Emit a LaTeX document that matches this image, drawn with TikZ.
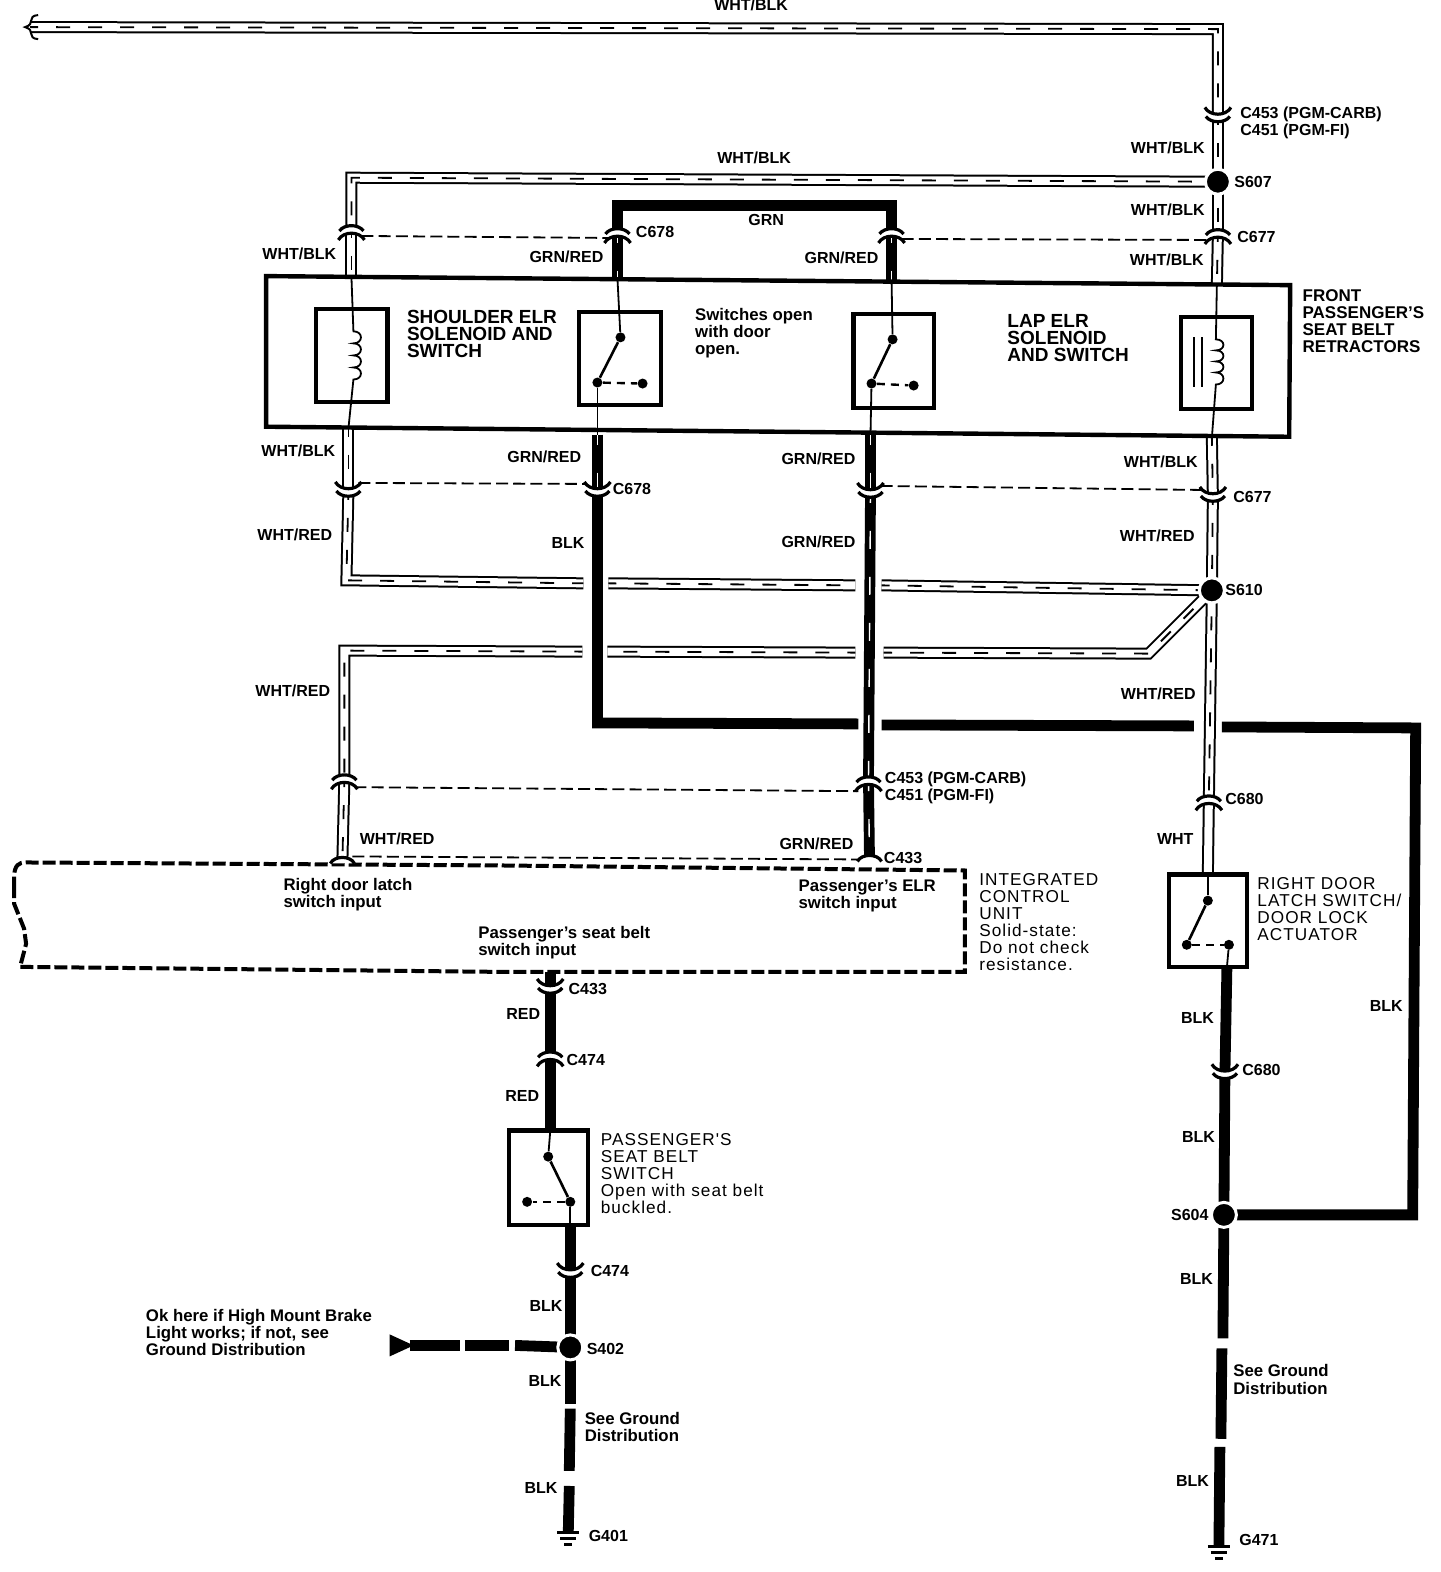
\documentclass[tikz,border=0pt]{standalone}
\usepackage{fontspec}
\usetikzlibrary{calc}
\setmainfont{Liberation Sans}
\newfontfamily\spaced[LetterSpace=6]{Liberation Sans}
\tikzset{
  wireo/.style={draw=black,line width=1pt,double=white,double distance=4pt},
  stripe/.style={draw=black,line width=0.9pt,dash pattern=on 7pt off 9pt,dash phase=3pt},
  thickw/.style={draw=black,line width=5.4pt},
  slit/.style={draw=white,line width=0.7pt,dash pattern=on 9pt off 14pt,dash phase=4pt},
  thinw/.style={draw=black,line width=0.9pt},
  link/.style={draw=black,line width=0.9pt,dash pattern=on 6pt off 2.6pt},
  boxp/.style={draw=black,line width=2.1pt,fill=white},
  splice/.style={circle,fill=black,draw=white,line width=1.5pt,inner sep=0pt,minimum size=12.5pt},
  swdot/.style={circle,fill=black,inner sep=0pt,minimum size=5pt},
  lab/.style={font=\bfseries\fontsize{8}{8.5}\selectfont,inner sep=0pt,anchor=west,align=left},
  big/.style={font=\bfseries\fontsize{9.5}{8.5}\selectfont,inner sep=0pt,anchor=west,align=left},
  front/.style={font=\bfseries\fontsize{8.5}{8.5}\selectfont,inner sep=0pt,anchor=west,align=left},
  capt/.style={font=\spaced\fontsize{8.6}{8.5}\selectfont,inner sep=0pt,anchor=west,align=left},
  note/.style={font=\bfseries\fontsize{8.4}{8.6}\selectfont,inner sep=0pt,anchor=west,align=left},
  conU/.pic={
    \fill[white] (-9,-3) rectangle (9,3);
    \draw[black,line width=1.6pt] (-13,-10) .. controls (-8,-1) and (8,-1) .. (13,-10);
    \draw[black,line width=1.6pt] (-12,-1) .. controls (-7,6) and (7,6) .. (12,-1);
  },
  conD/.pic={
    \fill[white] (-9,-3) rectangle (9,3);
    \draw[black,line width=1.6pt] (-12,1) .. controls (-7,-6) and (7,-6) .. (12,1);
    \draw[black,line width=1.6pt] (-13,10) .. controls (-8,1) and (8,1) .. (13,10);
  },
  conS/.pic={
    \fill[white] (-12,3) .. controls (-8,-5) and (8,-5) .. (12,3) -- cycle;
    \draw[black,line width=1.6pt] (-12,3) .. controls (-8,-5) and (8,-5) .. (12,3);
  },
  gndp/.pic={
    \draw[black,line width=1.4pt] (-11,0) -- (11,0) (-8,6) -- (8,6) (-4,12) -- (4,12);
  }
}
\newcommand\wwire[1]{\draw[wireo] #1; \draw[stripe] #1;}
\newcommand\kwire[1]{\draw[thickw] #1; \draw[slit] #1;}
\begin{document}
\begin{tikzpicture}[x=0.502pt,y=-0.502pt]
\useasboundingbox (0,0) rectangle (1434.3,1565.7);
% ----- coordinates
\coordinate (topL) at (30,27);
\coordinate (topR) at (1213,29);
\coordinate (c453r) at (1213,117);
\coordinate (s607c) at (1213,181);
\coordinate (c677a) at (1213,233);
\coordinate (boxTR) at (1212,283);
\coordinate (leftTop) at (350,177);
\coordinate (c1) at (350,229);
\coordinate (boxTL) at (350,275);
\coordinate (boxBL) at (347,427);
\coordinate (c2) at (347,490);
\coordinate (c3) at (615,232);
\coordinate (c4) at (888,232);
\coordinate (grnL) at (615,205);
\coordinate (grnR) at (888,205);
\coordinate (b3) at (615,278);
\coordinate (b4) at (888,280);
\coordinate (b5) at (595,433);
\coordinate (c5) at (595,490);
\coordinate (b6) at (867,433);
\coordinate (c6) at (867,491);
\coordinate (b7) at (1207,436);
\coordinate (c7) at (1208,495);
\coordinate (s610c) at (1207,588);
\coordinate (c680a) at (1204,797);
\coordinate (b8) at (1203,871);
\coordinate (c453m) at (865,778);
\coordinate (c433m) at (866,855);
\coordinate (c453l) at (343,776);
\coordinate (c433l) at (341,857);
\coordinate (r1) at (345,578);
\coordinate (h1a) at (581,581);
\coordinate (h1b) at (606,581);
\coordinate (h1c) at (852,583);
\coordinate (h1d) at (878,583);
\coordinate (r2) at (1144,651);
\coordinate (h2a) at (880,650);
\coordinate (h2b) at (852,650);
\coordinate (h2c) at (605,649);
\coordinate (h2d) at (580,649);
\coordinate (r3) at (343,648);
\coordinate (k1) at (595,720);
\coordinate (k2) at (855,721);
\coordinate (k3) at (878,722);
\coordinate (k4) at (1189,723);
\coordinate (k5) at (1217,724);
\coordinate (k6) at (1410,725);
\coordinate (k7) at (1407,1210);
\coordinate (c680b) at (1220,1070);
\coordinate (s604c) at (1219,1210);
\coordinate (rsb) at (1222,963);
\coordinate (g1a) at (1218,1333);
\coordinate (g1b) at (1217,1343);
\coordinate (g1c) at (1216,1433);
\coordinate (g1d) at (1215,1441);
\coordinate (g471) at (1214,1540);
\coordinate (icu1) at (548,968);
\coordinate (c8) at (548,985);
\coordinate (c9) at (548,1052);
\coordinate (pst) at (548,1127);
\coordinate (psb) at (568,1220);
\coordinate (c10) at (568,1268);
\coordinate (s402c) at (568,1342);
\coordinate (p1) at (568,1398);
\coordinate (p2) at (568,1403);
\coordinate (p3) at (567,1465);
\coordinate (p4) at (567,1480);
\coordinate (g401) at (566,1526);
\coordinate (a1) at (408,1340);
\coordinate (a2) at (458,1340);
\coordinate (a3) at (463,1340);
\coordinate (a4) at (507,1340);
\coordinate (a5) at (513,1340);
% ----- white striped wires
\wwire{(topL) -- (topR) -- (c453r)}
\wwire{(c453r) -- (s607c)}
\wwire{(s607c) -- (c677a)}
\wwire{(c677a) -- (boxTR)}
\wwire{(s607c) -- (leftTop) -- (c1)}
\wwire{(c1) -- (boxTL)}
\wwire{(boxBL) -- (c2)}
\wwire{(c2) -- (r1) -- (h1a)}
\wwire{(h1b) -- (h1c)}
\wwire{(h1d) -- (s610c)}
\wwire{(s610c) -- (r2) -- (h2a)}
\wwire{(h2b) -- (h2c)}
\wwire{(h2d) -- (r3) -- (c453l)}
\wwire{(c453l) -- (c433l)}
\wwire{(b7) -- (c7)}
\wwire{(c7) -- (s610c)}
\wwire{(s610c) -- (c680a)}
\draw[wireo] (c680a) -- (b8);
% torn end of the top wire
\draw[black,line width=1pt] (38,15) .. controls (26,16) and (36,24) .. (25,27) .. controls (36,30) and (26,38) .. (38,39);
% ----- black wires
\draw[thickw] (c3) -- (grnL) -- (grnR) -- (c4);
\kwire{(c3) -- (b3)}
\kwire{(c4) -- (b4)}
\kwire{(b5) -- (c5)}
\kwire{(b6) -- (c6)}
\kwire{(c6) -- (c453m)}
\kwire{(c453m) -- (c433m)}
\draw[thickw] (c5) -- (k1) -- (k2);
\draw[thickw] (k3) -- (k4);
\draw[thickw] (k5) -- (k6) -- (k7) -- (s604c);
\draw[thickw] (rsb) -- (c680b);
\draw[thickw] (c680b) -- (s604c);
\draw[thickw] (s604c) -- (g1a);
\draw[thickw] (g1b) -- (g1c);
\draw[thickw] (g1d) -- (g471);
\draw[thickw] (icu1) -- (c8);
\draw[thickw] (c8) -- (c9);
\draw[thickw] (c9) -- (pst);
\draw[thickw] (psb) -- (c10);
\draw[thickw] (c10) -- (s402c);
\draw[thickw] (s402c) -- (p1);
\draw[thickw] (p2) -- (p3);
\draw[thickw] (p4) -- (g401);
\draw[thickw] (a1) -- (a2);
\draw[thickw] (a3) -- (a4);
\draw[thickw] (a5) -- (s402c);
\fill[black] (388,1329) -- (412,1340) -- (388,1351) -- cycle;
% ----- retractor frame and parts
\draw[draw=black,line width=2.2pt,fill=white] (265,275) -- (1285,284) -- (1284,435) -- (265,425) -- cycle;
\draw[boxp] (315,308) rectangle (386,400);
\draw[boxp] (577,311) rectangle (658,403);
\draw[boxp] (850,313) rectangle (930,406);
\draw[boxp] (1176,316) rectangle (1247,407);
% coils
\draw[thinw] (boxTL) -- (352,330) .. controls (362,330) and (362,342) .. (352,342) .. controls (362,342) and (362,354) .. (352,354) .. controls (362,354) and (362,366) .. (352,366) .. controls (362,366) and (362,378) .. (352,378) -- (boxBL);
\draw[thinw] (boxTR) -- (1211,338) .. controls (1221,338) and (1221,349) .. (1211,349) .. controls (1221,349) and (1221,360) .. (1211,360) .. controls (1221,360) and (1221,371) .. (1211,371) .. controls (1221,371) and (1221,383) .. (1211,383) -- (b7);
\draw[black,line width=1pt] (1189,336) -- (1189,385) (1197,336) -- (1197,385);
% switches
\node[swdot] (s1u) at (618,336) {};
\node[swdot] (s1l) at (595,381) {};
\node[swdot] (s1r) at (640,382) {};
\draw[thinw] (b3) -- (s1u);
\draw[black,line width=1.3pt] (s1u) -- (s1l);
\draw[thinw] (s1l) -- (b5);
\draw[black,line width=1.2pt,dash pattern=on 4pt off 3pt] (s1l) -- (s1r);
\node[swdot] (s2u) at (889,338) {};
\node[swdot] (s2l) at (868,382) {};
\node[swdot] (s2r) at (910,384) {};
\draw[thinw] (b4) -- (s2u);
\draw[black,line width=1.3pt] (s2u) -- (s2l);
\draw[thinw] (s2l) -- (b6);
\draw[black,line width=1.2pt,dash pattern=on 4pt off 3pt] (s2l) -- (s2r);
% door switch
\draw[boxp] (1164,871) rectangle (1242,963);
\node[swdot] (s3u) at (1203,897) {};
\node[swdot] (s3l) at (1182,941) {};
\node[swdot] (s3r) at (1224,941) {};
\draw[thinw] (b8) -- (s3u);
\draw[black,line width=1.3pt] (s3u) -- (s3l);
\draw[thinw] (s3r) -- (rsb);
\draw[black,line width=1.2pt,dash pattern=on 4pt off 3pt] (s3l) -- (s3r);
% seat belt switch
\draw[boxp] (507,1126) rectangle (586,1220);
\node[swdot] (s4u) at (546,1152) {};
\node[swdot] (s4l) at (568,1197) {};
\node[swdot] (s4r) at (525,1197) {};
\draw[thinw] (pst) -- (s4u);
\draw[black,line width=1.3pt] (s4u) -- (s4l);
\draw[thinw] (s4l) -- (psb);
\draw[black,line width=1.2pt,dash pattern=on 4pt off 3pt] (s4l) -- (s4r);
% ----- ICU box
\draw[black,line width=2pt,dash pattern=on 6.5pt off 2pt] (14,886) -- (14,872) .. controls (15,862) and (18,859) .. (26,859) -- (500,862) -- (961,867) -- (961,968) -- (500,968) -- (20,963) -- (26,940) -- (24,925) -- (14,900) -- cycle;
% ----- dashed links
\draw[link] ($(c1)+(10,6)$) -- ($(c3)+(-9,5)$);
\draw[link] ($(c4)+(10,6)$) -- ($(c677a)+(-10,6)$);
\draw[link] ($(c2)+(10,-9)$) -- ($(c5)+(-10,-8)$);
\draw[link] ($(c6)+(10,-7)$) -- ($(c7)+(-11,-7)$);
\draw[link] ($(c453l)+(10,8)$) -- ($(c453m)+(-10,10)$);
\draw[link] ($(c433l)+(10,-4)$) -- ($(c433m)+(-10,1)$);
% ----- connectors
\pic at (c453r) {conU};
\pic at (c677a) {conD};
\pic at (c1) {conD};
\pic at (c2) {conU};
\pic at (c3) {conD};
\pic at (c4) {conD};
\pic at (c5) {conU};
\pic at (c6) {conU};
\pic at (c7) {conU};
\pic at (c453l) {conD};
\pic at (c453m) {conD};
\pic at (c680a) {conD};
\pic at (c433l) {conS};
\pic at (c433m) {conS};
\pic at (c8) {conU};
\pic at (c9) {conD};
\pic at (c10) {conU};
\pic at (c680b) {conU};
\pic at (g401) {gndp};
\pic at (g471) {gndp};
% ----- splices
\node[splice] (s607) at (s607c) {};
\node[splice] (s610) at (s610c) {};
\node[splice] (s604) at (s604c) {};
\node[splice] (s402) at (s402c) {};
% ----- labels
\node[lab] (l1) at (711,5) {WHT/BLK};
\node[lab] (l2) at (714,157) {WHT/BLK};
\node[lab] (l3) at (1126,147) {WHT/BLK};
\node[lab] (l4) at (1126,209) {WHT/BLK};
\node[lab] (l5) at (1125,259) {WHT/BLK};
\node[lab] (l6) at (261,253) {WHT/BLK};
\node[lab] (l7) at (260,449) {WHT/BLK};
\node[lab] (l8) at (1119,460) {WHT/BLK};
\node[lab] (l9) at (1235,122) {C453 (PGM-CARB)\\C451 (PGM-FI)};
\node[lab] (l10) at (1229,181) {S607};
\node[lab] (l11) at (1232,236) {C677};
\node[lab] (l12) at (633,231) {C678};
\node[lab] (l13) at (745,219) {GRN};
\node[lab] (l14) at (527,256) {GRN/RED};
\node[lab] (l15) at (801,257) {GRN/RED};
\node[lab] (l16) at (505,455) {GRN/RED};
\node[lab] (l17) at (778,457) {GRN/RED};
\node[lab] (l18) at (778,540) {GRN/RED};
\node[lab] (l19) at (776,840) {GRN/RED};
\node[lab] (l20) at (610,487) {C678};
\node[lab] (l21) at (1228,495) {C677};
\node[lab] (l22) at (256,533) {WHT/RED};
\node[lab] (l23) at (1115,534) {WHT/RED};
\node[lab] (l24) at (1116,691) {WHT/RED};
\node[lab] (l25) at (254,688) {WHT/RED};
\node[lab] (l26) at (358,835) {WHT/RED};
\node[lab] (l27) at (549,541) {BLK};
\node[lab] (l28) at (1220,588) {S610};
\node[lab] (l29) at (881,785) {C453 (PGM-CARB)\\C451 (PGM-FI)};
\node[lab] (l30) at (1220,796) {C680};
\node[lab] (l31) at (880,855) {C433};
\node[lab] (l32) at (1152,836) {WHT};
\node[lab] (l33) at (1176,1014) {BLK};
\node[lab] (l34) at (1177,1132) {BLK};
\node[lab] (l35) at (1175,1274) {BLK};
\node[lab] (l36) at (1171,1475) {BLK};
\node[lab] (l37) at (1364,1002) {BLK};
\node[lab] (l38) at (1237,1066) {C680};
\node[lab] (l39) at (1166,1210) {S604};
\node[lab] (l40) at (1234,1534) {G471};
\node[lab] (l41) at (504,1010) {RED};
\node[lab] (l42) at (566,985) {C433};
\node[lab] (l43) at (564,1056) {C474};
\node[lab] (l44) at (503,1092) {RED};
\node[lab] (l45) at (588,1266) {C474};
\node[lab] (l46) at (527,1301) {BLK};
\node[lab] (l47) at (584,1344) {S402};
\node[lab] (l48) at (526,1375) {BLK};
\node[lab] (l49) at (522,1482) {BLK};
\node[lab] (l50) at (586,1530) {G401};
% ----- captions
\node[big] (t1) at (405,333) {SHOULDER ELR\\SOLENOID AND\\SWITCH};
\node[big] (t2) at (1003,337) {LAP ELR\\SOLENOID\\AND SWITCH};
\node[note] (t3) at (692,332) {Switches open\\with door\\open.};
\node[front] (t4) at (1297,320) {FRONT\\PASSENGER'S\\SEAT BELT\\RETRACTORS};
\node[capt] (t5) at (1252,905) {RIGHT DOOR\\LATCH SWITCH/\\DOOR LOCK\\ACTUATOR};
\node[note] (t6) at (282,891) {Right door latch\\switch input};
\node[note] (t7) at (795,892) {Passenger's ELR\\switch input};
\node[note] (t8) at (476,939) {Passenger's seat belt\\switch input};
\node[capt] (t9) at (975,918) {INTEGRATED\\CONTROL\\UNIT\\Solid-state:\\Do not check\\resistance.};
\node[capt] (t10) at (598,1169) {PASSENGER'S\\SEAT BELT\\SWITCH\\Open with seat belt\\buckled.};
\node[note] (t11) at (1228,1374) {See Ground\\Distribution};
\node[note] (t12) at (582,1421) {See Ground\\Distribution};
\node[note] (t13) at (145,1327) {Ok here if High Mount Brake\\Light works; if not, see\\Ground Distribution};
\end{tikzpicture}
\end{document}
